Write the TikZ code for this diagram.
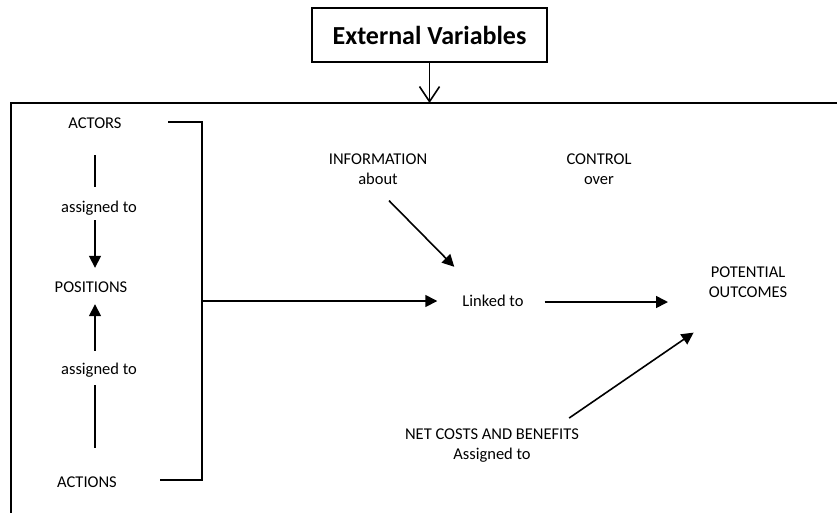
\documentclass[tikz,border=0pt]{standalone}
\usepackage{fontspec}
\setmainfont{Carlito}
\usetikzlibrary{arrows.meta,calc}
\begin{document}
\begin{tikzpicture}[x=1pt,y=-1pt,
  lbl/.style={inner sep=0pt, font=\fontsize{16.5}{20}\selectfont, text height=12pt, text depth=4pt},
  mlbl/.style={inner sep=0pt, font=\fontsize{16.5}{20}\selectfont, align=center},
  conn/.style={line width=1.6pt},
  arr/.style={conn, -{Triangle[length=12pt,width=12pt]}},
  openarr/.style={line width=1.6pt, -{Straight Barb[length=15pt,width=20pt]}},
  frameline/.style={line width=1.9pt},
  titlebox/.style={draw, line width=1.4pt, minimum width=235pt, minimum height=54pt,
    inner sep=0pt, font=\fontsize{26}{30}\selectfont\bfseries}
]
\useasboundingbox (0,0) rectangle (837,512);

% title box and the frame it feeds into
\node[titlebox] (ext) at (429.5,35) {External Variables};
\coordinate (ftl) at (11,103);
\draw[frameline] (850,103) -- (ftl) -- (11,525);
\draw[openarr] (ext) -- (ext |- ftl);

% left column
\node[lbl] (actors)    at (95,124)  {ACTORS};
\node[lbl] (as1)       at (99,208)  {assigned to};
\node[lbl] (positions) at (91,288)  {POSITIONS};
\node[lbl] (as2)       at (99,370)  {assigned to};
\node[lbl] (actions)   at (87,483)  {ACTIONS};

\draw[conn, shorten <=23pt, shorten >=13pt] (actors.south) -- (actors.south |- as1.north);
\draw[arr, shorten <=4pt, shorten >=12pt] (as1.south -| actors) -- (positions.north -| actors);
\draw[arr, shorten <=11pt, shorten >=8pt] (as2.north -| actors) -- (positions.south -| actors);
\draw[conn, shorten <=7pt, shorten >=27pt] (as2.south -| actors) -- (actions.north -| actors);

% bracket gathering the left column
\coordinate (btop) at (202,122);
\coordinate (bmid) at (202,301);
\coordinate (bbot) at (202,480);
\draw[conn] (168,122) -- (btop) -- (bbot) -- (160,480);

% centre and right part
\node[lbl]  (linked)   at (493,302) {Linked to};
\node[mlbl] (info)     at (378,169) {INFORMATION\\about};
\node[mlbl] (control)  at (599,169) {CONTROL\\over};
\node[mlbl] (outcomes) at (748,282) {POTENTIAL\\OUTCOMES};
\node[mlbl] (net)      at (492,446) {NET COSTS AND BENEFITS\\Assigned to};

\draw[arr, shorten >=25pt] (bmid) -- (bmid -| linked.west);
\draw[arr, shorten <=21pt] (linked.east) -- (linked.east -| 668,0);
\draw[arr] ($(info.south)+(11,16)$) -- ($(linked.north west)+(-8,-27)$);
\draw[arr] ($(net.north east)+(-10,-11)$) -- ($(outcomes.south west)+(-15,35)$);
\end{tikzpicture}
\end{document}
